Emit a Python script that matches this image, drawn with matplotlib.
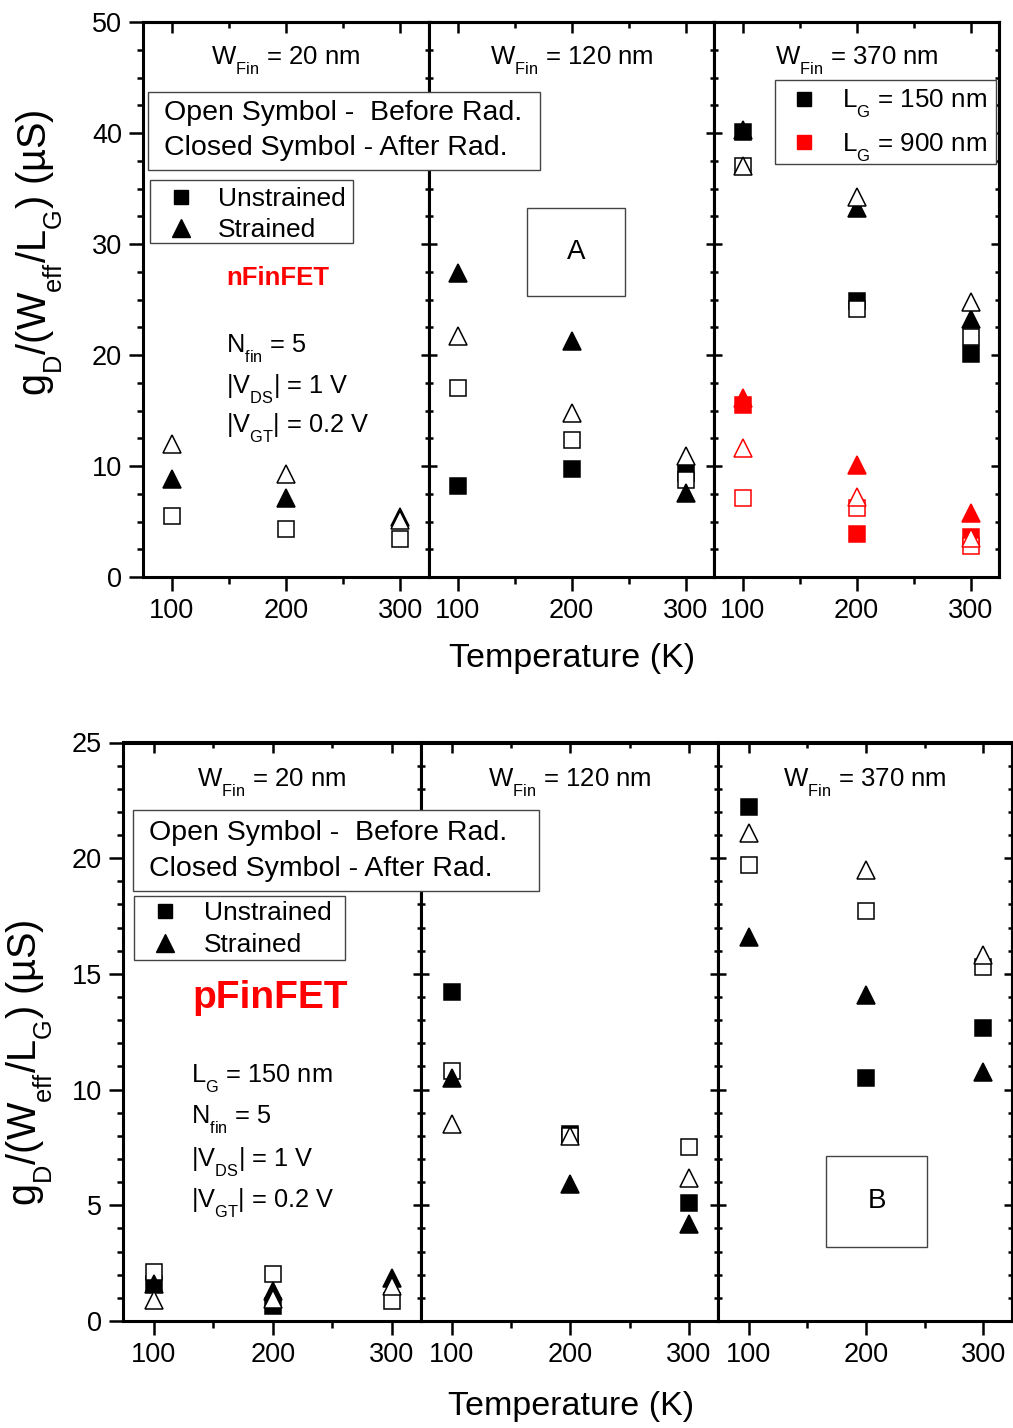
import numpy as np
import matplotlib
matplotlib.use("Agg")
import matplotlib.pyplot as plt
from matplotlib.lines import Line2D
from matplotlib.patches import Rectangle
from matplotlib.ticker import MultipleLocator, FixedLocator

plt.rcParams['font.family'] = ['Liberation Sans', 'DejaVu Sans']
plt.rcParams['mathtext.fontset'] = 'custom'
plt.rcParams['mathtext.rm'] = 'Liberation Sans'
plt.rcParams['mathtext.it'] = 'Liberation Sans:italic'
plt.rcParams['mathtext.bf'] = 'Liberation Sans:bold'
try:
    import matplotlib._mathtext as _mt
    _mt.FontConstantsBase.sub1 = 0.75
    _mt.FontConstantsBase.sub2 = 0.75
    _mt.SHRINK_FACTOR = 0.64
except Exception:
    pass

# ---------------- data ----------------
temps = [100, 200, 300]

# nFinFET (top), W_Fin = 20 nm
n20_open_sq = [5.5, 4.3, 3.4]
n20_closed_tri = [8.8, 7.1, 5.4]
n20_open_tri = [12.0, 9.3, 5.1]
# W_Fin = 120 nm
n120_closed_sq = [8.2, 9.7, 9.4]
n120_open_sq = [17.0, 12.3, 8.7]
n120_closed_tri = [27.4, 21.3, 7.6]
n120_open_tri = [21.7, 14.8, 10.9]
# W_Fin = 370 nm, L_G = 150 nm
n370_150_closed_sq = [40.1, 24.9, 20.1]
n370_150_open_sq = [37.0, 24.1, 21.6]
n370_150_closed_tri = [40.3, 33.2, 23.2]
n370_150_open_tri = [37.0, 34.2, 24.8]
# W_Fin = 370 nm, L_G = 900 nm
n370_900_closed_sq = [15.5, 3.9, 3.6]
n370_900_open_sq = [7.1, 6.2, 2.8]
n370_900_closed_tri = [16.1, 10.1, 5.8]
n370_900_open_tri = [11.6, 7.2, 3.5]

# pFinFET (bottom), W_Fin = 20 nm
p20_closed_sq = [1.6, 0.65, np.nan]
p20_open_sq = [2.1, 2.05, 0.85]
p20_closed_tri = [1.6, 1.3, 1.85]
p20_open_tri = [0.9, 0.95, 1.5]
# W_Fin = 120 nm
p120_closed_sq = [14.2, 8.1, 5.1]
p120_open_sq = [10.8, 8.0, 7.5]
p120_closed_tri = [10.5, 5.9, 4.2]
p120_open_tri = [8.5, 8.0, 6.2]
# W_Fin = 370 nm
p370_closed_sq = [22.2, 10.5, 12.65]
p370_open_sq = [19.7, 17.7, 15.3]
p370_closed_tri = [16.6, 14.1, 10.75]
p370_open_tri = [21.1, 19.5, 15.8]

panel_titles = ["20", "120", "370"]
x_ticks = [100, 200, 300]

# ---------------- figure ----------------
W, H = 1013, 1428
fig = plt.figure(figsize=(W / 100, H / 100), dpi=100)


def px(x, y):
    return (x / W, 1 - y / H)


def add_axes(x0, x1, y0, y1):
    return fig.add_axes([x0 / W, 1 - y1 / H, (x1 - x0) / W, (y1 - y0) / H])


SPW = 2.2
TW = 1.8
TFS = 19.5


def style(ax, first, ylim, ymaj, ymin, xlim):
    ax.set_xlim(*xlim)
    ax.set_ylim(*ylim)
    ax.xaxis.set_major_locator(FixedLocator(x_ticks))
    ax.xaxis.set_minor_locator(FixedLocator([150, 250]))
    ax.yaxis.set_major_locator(MultipleLocator(ymaj))
    ax.yaxis.set_minor_locator(MultipleLocator(ymin))
    for sp in ax.spines.values():
        sp.set_linewidth(SPW)
    ax.tick_params(axis='x', which='both', direction='out', bottom=True, top=False,
                   width=TW, labelsize=TFS, pad=5)
    ax.tick_params(axis='x', which='major', length=10)
    ax.tick_params(axis='x', which='minor', length=5)
    ax.tick_params(axis='y', which='both', direction='out' if first else 'in',
                   left=True, right=False, width=TW, labelleft=first, labelsize=TFS, pad=5)
    ax.tick_params(axis='y', which='major', length=10 if first else 6)
    ax.tick_params(axis='y', which='minor', length=4 if first else 3)
    sy = ax.secondary_yaxis('right')
    sy.yaxis.set_major_locator(MultipleLocator(ymaj))
    sy.yaxis.set_minor_locator(MultipleLocator(ymin))
    sy.tick_params(axis='y', which='both', direction='in', width=TW, labelright=False)
    sy.tick_params(axis='y', which='major', length=6)
    sy.tick_params(axis='y', which='minor', length=3)
    sy.spines['right'].set_linewidth(SPW)
    sx = ax.secondary_xaxis('top')
    sx.xaxis.set_major_locator(FixedLocator(x_ticks))
    sx.xaxis.set_minor_locator(FixedLocator([150, 250]))
    sx.tick_params(axis='x', which='both', direction='in', width=TW, labeltop=False)
    sx.tick_params(axis='x', which='major', length=8)
    sx.tick_params(axis='x', which='minor', length=4)
    sx.spines['top'].set_linewidth(SPW)


MS_SQ = 11
MS_TR = 13
EW = 1.1


def plot_set(ax, color, csq, osq, ctri, otri):
    if csq is not None:
        ax.plot(temps, csq, ls='none', marker='s', ms=MS_SQ, mfc=color, mec=color, mew=EW, zorder=3)
    if osq is not None:
        ax.plot(temps, osq, ls='none', marker='s', ms=MS_SQ, mfc='white', mec=color, mew=EW, zorder=3)
    if ctri is not None:
        ax.plot(temps, ctri, ls='none', marker='^', ms=MS_TR, mfc=color, mec=color, mew=EW, zorder=3)
    if otri is not None:
        ax.plot(temps, otri, ls='none', marker='^', ms=MS_TR, mfc='white', mec=color, mew=EW, zorder=3)


RED = '#ff0000'

# ---------- top (nFinFET) ----------
top_x = [(143, 429), (429, 714), (714, 999)]
top_axes = [add_axes(a, b, 22, 577) for a, b in top_x]
for i, ax in enumerate(top_axes):
    style(ax, i == 0, (0, 50), 10, 2.5, (75, 325))
plot_set(top_axes[0], 'black', None, n20_open_sq, n20_closed_tri, n20_open_tri)
plot_set(top_axes[1], 'black', n120_closed_sq, n120_open_sq, n120_closed_tri, n120_open_tri)
plot_set(top_axes[2], 'black', n370_150_closed_sq, n370_150_open_sq, n370_150_closed_tri, n370_150_open_tri)
plot_set(top_axes[2], RED, n370_900_closed_sq, n370_900_open_sq, n370_900_closed_tri, n370_900_open_tri)

# ---------- bottom (pFinFET) ----------
bot_x = [(123, 421), (421, 718), (718, 1012)]
bot_axes = [add_axes(a, b, 742.5, 1321) for a, b in bot_x]
for i, ax in enumerate(bot_axes):
    style(ax, i == 0, (0, 25), 5, 1, (74, 324.5))
plot_set(bot_axes[0], 'black', p20_closed_sq, p20_open_sq, p20_closed_tri, p20_open_tri)
plot_set(bot_axes[1], 'black', p120_closed_sq, p120_open_sq, p120_closed_tri, p120_open_tri)
plot_set(bot_axes[2], 'black', p370_closed_sq, p370_open_sq, p370_closed_tri, p370_open_tri)

# panel titles
for axs, yy in ((top_axes, 61), (bot_axes, 783)):
    for ax, t in zip(axs, panel_titles):
        bb = ax.get_position()
        fig.text(bb.x0 + bb.width / 2, 1 - yy / H, r"W$_{\mathrm{Fin}}$ = " + t + " nm",
                 ha='center', va='center', fontsize=18.5)

# axis labels
ylab = r"g$_{\mathrm{D}}$/(W$_{\mathrm{eff}}$/L$_{\mathrm{G}}$) (µS)"
fig.text(*px(40, 253), ylab, rotation=90, ha='center', va='center', fontsize=28.5)
fig.text(*px(30, 1063), ylab, rotation=90, ha='center', va='center', fontsize=28.5)
fig.text(*px(572, 659), "Temperature (K)", ha='center', va='center', fontsize=24.5)
fig.text(*px(571, 1407), "Temperature (K)", ha='center', va='center', fontsize=24.5)


def box(x0, y0, x1, y1, fc='white'):
    r = Rectangle(px(x0, y1), (x1 - x0) / W, (y1 - y0) / H, transform=fig.transFigure,
                  facecolor=fc, edgecolor='#444444', linewidth=1.0, zorder=4)
    fig.patches.append(r)


# "Open / Closed symbol" boxes
box(148, 92, 540, 170)
fig.text(*px(164, 113), "Open Symbol -  Before Rad.", ha='left', va='center', fontsize=20.5, zorder=6)
fig.text(*px(164, 148), "Closed Symbol - After Rad.", ha='left', va='center', fontsize=20.5, zorder=6)
box(133, 810, 539, 891)
fig.text(*px(149, 833), "Open Symbol -  Before Rad.", ha='left', va='center', fontsize=20.5, zorder=6)
fig.text(*px(149, 869), "Closed Symbol - After Rad.", ha='left', va='center', fontsize=20.5, zorder=6)

# marker legends
sym_handles = [Line2D([], [], ls='none', marker='s', ms=10, color='black'),
               Line2D([], [], ls='none', marker='^', ms=13, color='black')]
sym_labels = ["Unstrained", "Strained"]
box(150, 180, 353, 243)
box(134, 896, 345, 960)
fs_leg = 19
fpx = fs_leg * 100 / 72
for (bx, by, mx, tx, dy) in ((150, 187, 181, 218, 32), (134, 901, 165, 204, 33)):
    hl = 2 * (mx - bx) / fpx
    lg = fig.legend(sym_handles, sym_labels, loc='upper left', bbox_to_anchor=px(bx, by),
                    frameon=False, fontsize=fs_leg, borderpad=0, borderaxespad=0,
                    handlelength=hl, handletextpad=(tx - bx) / fpx - hl,
                    labelspacing=(dy - 25) / fpx)
    lg.set_zorder(7)

box(775, 80, 996, 164)
lg_handles = [Line2D([], [], ls='none', marker='s', ms=10, color='black'),
              Line2D([], [], ls='none', marker='s', ms=10, color=RED)]
lg_labels = [r"L$_{\mathrm{G}}$ = 150 nm", r"L$_{\mathrm{G}}$ = 900 nm"]
fs2 = 18.7
fpx2 = fs2 * 100 / 72
hl2 = 2 * (804 - 775) / fpx2
lg = fig.legend(lg_handles, lg_labels, loc='upper left', bbox_to_anchor=px(775, 88),
                frameon=False, fontsize=fs2, borderpad=0, borderaxespad=0,
                handlelength=hl2, handletextpad=(842 - 775) / fpx2 - hl2,
                labelspacing=(44 - 33) / fpx2)
lg.set_zorder(7)

# device labels
fig.text(*px(278, 278), "nFinFET", color=RED, fontweight='bold', ha='center', va='center', fontsize=18.5)
fig.text(*px(270, 998), "pFinFET", color=RED, fontweight='bold', ha='center', va='center', fontsize=28)

cond_top = [r"N$_{\mathrm{fin}}$ = 5", r"|V$_{\mathrm{DS}}$| = 1 V", r"|V$_{\mathrm{GT}}$| = 0.2 V"]
for s, yy in zip(cond_top, (349, 389, 428)):
    fig.text(*px(226, yy), s, ha='left', va='center', fontsize=18.3)
cond_bot = [r"L$_{\mathrm{G}}$ = 150 nm", r"N$_{\mathrm{fin}}$ = 5",
            r"|V$_{\mathrm{DS}}$| = 1 V", r"|V$_{\mathrm{GT}}$| = 0.2 V"]
for s, yy in zip(cond_bot, (1079, 1120, 1162, 1203)):
    fig.text(*px(191, yy), s, ha='left', va='center', fontsize=18.3)

# A / B boxes
box(527, 208, 625, 296, fc='none')
fig.text(*px(576, 252), "A", ha='center', va='center', fontsize=20)
box(826, 1156, 927, 1247, fc='none')
fig.text(*px(877, 1201), "B", ha='center', va='center', fontsize=20)

fig.savefig("out.png", dpi=100)
